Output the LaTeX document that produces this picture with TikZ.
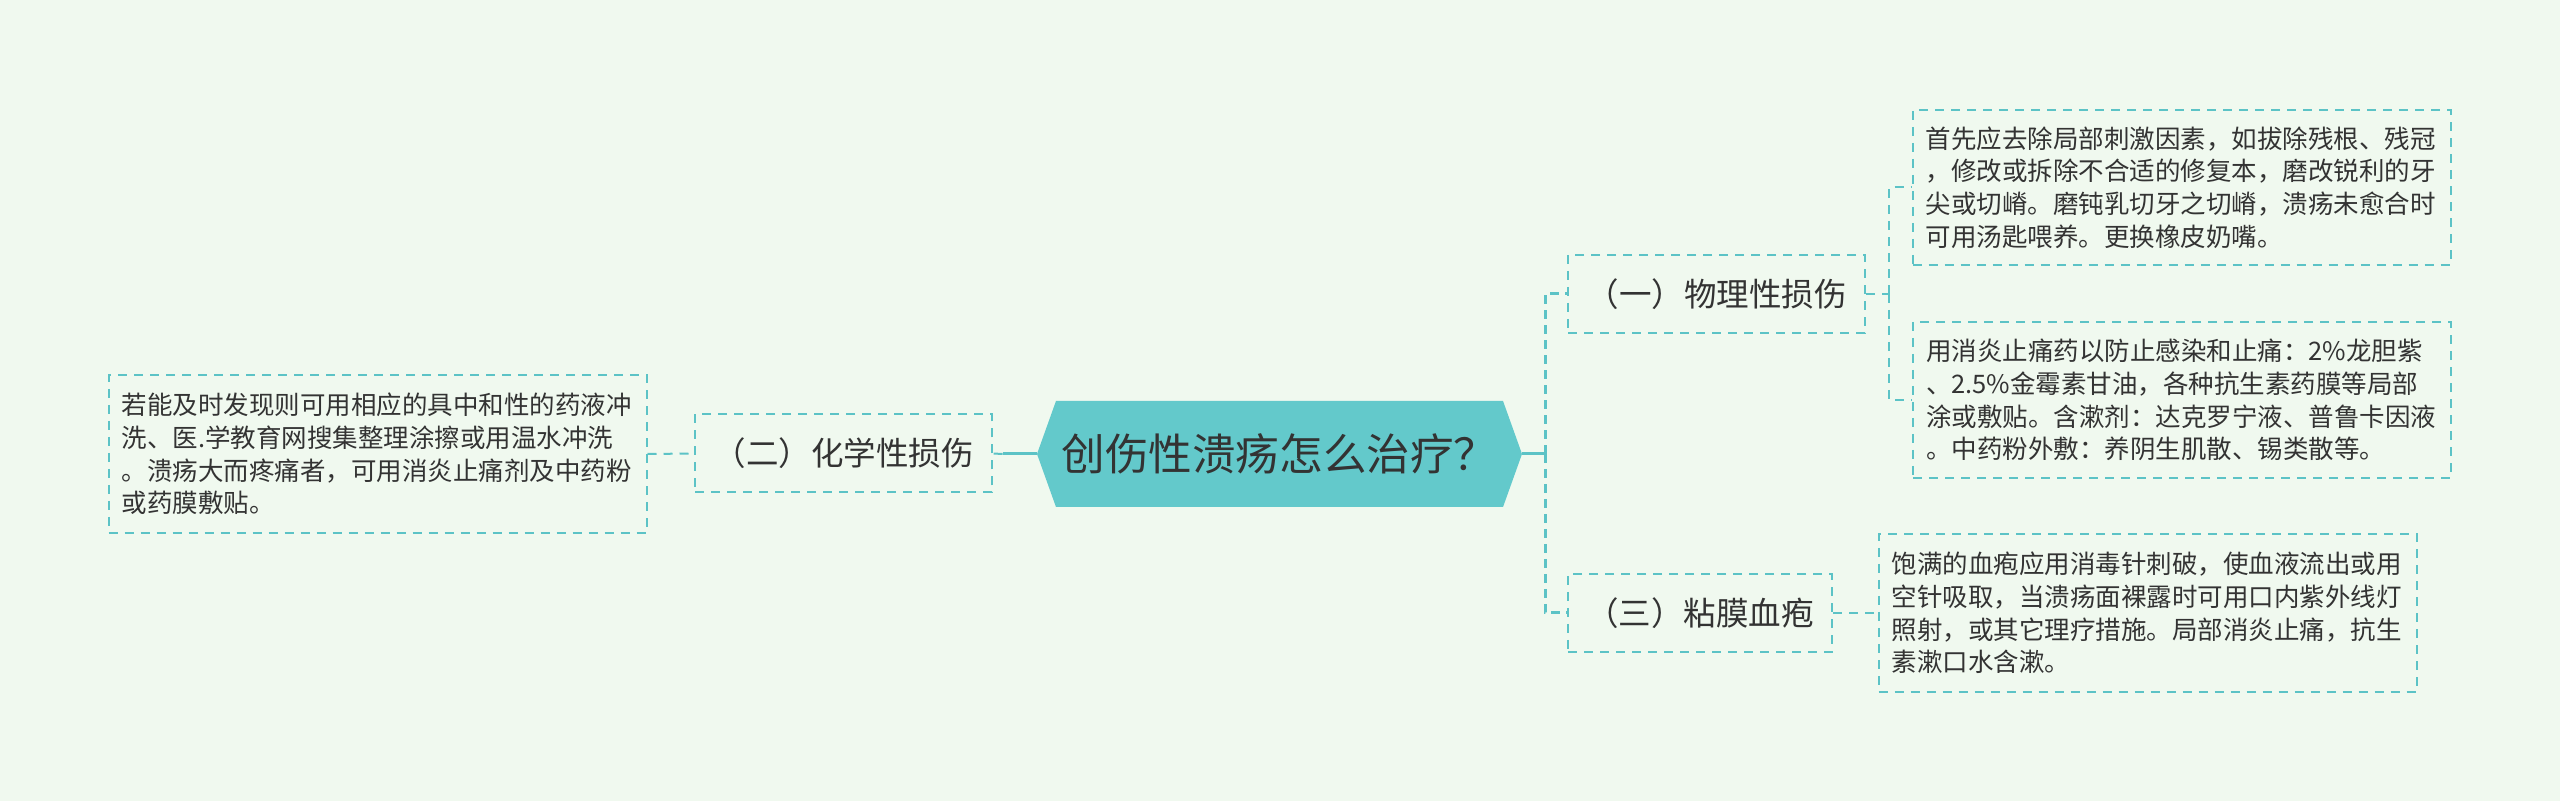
\documentclass[tikz,border=0pt]{standalone}
\usepackage{fontspec}
\newfontfamily\cjk{Noto Sans CJK SC}
\usetikzlibrary{shapes.symbols}
\definecolor{bgcol}{RGB}{240,249,239}
\definecolor{linkcol}{RGB}{92,195,198}
\definecolor{rootcol}{RGB}{99,201,203}
\definecolor{txtcol}{RGB}{51,51,51}

\begin{document}
\begin{tikzpicture}[x=0.5pt,y=0.5pt,yscale=-1,xscale=1,
  rootnode/.style={shape=signal, signal to=west and east, signal pointer angle=140.6, fill=rootcol, draw=none, minimum width=242.5pt, minimum height=53pt, inner sep=0pt, font=\cjk\fontsize{21.8}{26}\selectfont, text=txtcol},
  subnode/.style={draw=linkcol, line width=1pt, dash pattern=on 4.5pt off 3.5pt, fill=bgcol, minimum height=39pt, inner sep=0pt, font=\cjk\fontsize{16.25}{20}\selectfont, text=txtcol},
  leafnode/.style={draw=linkcol, line width=1pt, dash pattern=on 4.5pt off 3.5pt, fill=bgcol, align=left, text width=256pt, inner xsep=6.5pt, inner ysep=0pt, font=\cjk\fontsize{12.75}{16.4}\selectfont, text=txtcol},
  trunk/.style={draw=linkcol, line width=1.5pt},
  twig/.style={draw=linkcol, line width=1pt, dash pattern=on 4.5pt off 3.5pt}]
%uncomment if require: \path (0,801); %set diagram left start at 0, and has height of 801
\fill[bgcol] (0,0) rectangle (2560,801);
\useasboundingbox (0,0) rectangle (2560,801);

%Shape: Root [id:root]
\node[rootnode] (root) at (1279.5,454) {创伤性溃疡怎么治疗？};

% Text Node
\node[subnode, minimum width=148.5pt] (phys) at (1716.5,294) {（一）物理性损伤};
% Text Node
\node[subnode, minimum width=148.5pt] (chem) at (843.5,453.5) {（二）化学性损伤};
% Text Node
\node[subnode, minimum width=132pt] (blis) at (1700,613) {（三）粘膜血疱};

% Text Node
\node[leafnode, minimum height=77.5pt] (physa) at (2181.5,187.5) {首先应去除局部刺激因素，如拔除残根、残冠\\，修改或拆除不合适的修复本，磨改锐利的牙\\尖或切嵴。磨钝乳切牙之切嵴，溃疡未愈合时\\可用汤匙喂养。更换橡皮奶嘴。};
% Text Node
\node[leafnode, minimum height=78pt] (physb) at (2182,400) {用消炎止痛药以防止感染和止痛：2\%龙胆紫\\、2.5\%金霉素甘油，各种抗生素药膜等局部\\涂或敷贴。含漱剂：达克罗宁液、普鲁卡因液\\。中药粉外敷：养阴生肌散、锡类散等。};
% Text Node
\node[leafnode, minimum height=79pt] (blisa) at (2147.5,613) {饱满的血疱应用消毒针刺破，使血液流出或用\\空针吸取，当溃疡面裸露时可用口内紫外线灯\\照射，或其它理疗措施。局部消炎止痛，抗生\\素漱口水含漱。};
% Text Node
\node[leafnode, minimum height=79pt] (chema) at (377.5,454) {若能及时发现则可用相应的具中和性的药液冲\\洗、医.学教育网搜集整理涂擦或用温水冲洗\\。溃疡大而疼痛者，可用消炎止痛剂及中药粉\\或药膜敷贴。};

%Shape: Links
\coordinate (jr) at ([xshift=11.5pt]root.east);
\coordinate (jl) at ([xshift=-17pt]root.west);
\coordinate (jp) at ([xshift=11.5pt]phys.east);
\draw[trunk] (root.east) -- (jr);
\draw[trunk, dash pattern=on 4.5pt off 3pt] (jr) |- (phys.west);
\draw[trunk, dash pattern=on 4.5pt off 3pt] (jr) |- (blis.west);
\draw[trunk] (root.west) -- (jl);
\draw[twig] (jl) -- (chem.east);
\draw[twig] (phys.east) -- (jp);
\draw[twig] (jp) |- (physa.west);
\draw[twig] (jp) |- (physb.west);
\draw[twig] (blis.east) -- (blisa.west);
\draw[twig] (chema.east) -- (chem.west);

\end{tikzpicture}
\end{document}
